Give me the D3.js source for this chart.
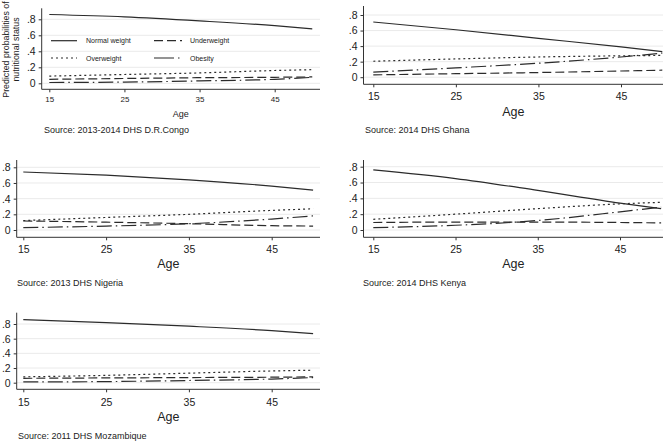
<!DOCTYPE html>
<html><head><meta charset="utf-8">
<script src="https://cdn.jsdelivr.net/npm/d3@7"></script>
<style>
html,body{margin:0;padding:0;background:#fff;}
svg{display:block;font-family:"Liberation Sans",Arial,sans-serif;}
</style></head>
<body>
<svg id="chart" width="669" height="441"></svg>
<script>
// ---- data ----
const ages = [15, 25, 35, 45, 50];
const xTicks = [15, 25, 35, 45];
const yTicks = [0, 0.2, 0.4, 0.6, 0.8];
const yTickLabels = ["0", ".2", ".4", ".6", ".8"];
const seriesNames = ["Normal weight", "Underweight", "Overweight", "Obesity"];
const sources = ["Source: 2013-2014 DHS D.R.Congo", "Source: 2014 DHS Ghana", "Source: 2013 DHS Nigeria", "Source: 2014 DHS Kenya", "Source: 2011 DHS Mozambique"];

const congoNormal = [0.86, 0.83, 0.78, 0.72, 0.68];
const congoUnder  = [0.05, 0.06, 0.07, 0.075, 0.08];
const congoOver   = [0.09, 0.11, 0.13, 0.16, 0.17];
const congoObese  = [0.01, 0.015, 0.03, 0.05, 0.075];

const ghanaNormal = [0.71, 0.61, 0.50, 0.39, 0.33];
const ghanaUnder  = [0.03, 0.045, 0.06, 0.08, 0.09];
const ghanaOver   = [0.205, 0.235, 0.26, 0.275, 0.28];
const ghanaObese  = [0.065, 0.12, 0.18, 0.26, 0.31];

const nigeriaNormal = [0.74, 0.70, 0.64, 0.56, 0.51];
const nigeriaUnder  = [0.115, 0.10, 0.08, 0.055, 0.05];
const nigeriaOver   = [0.12, 0.16, 0.20, 0.25, 0.27];
const nigeriaObese  = [0.03, 0.05, 0.08, 0.14, 0.18];

const kenyaNormal = [0.76, 0.65, 0.50, 0.34, 0.27];
const kenyaUnder  = [0.095, 0.10, 0.10, 0.095, 0.09];
const kenyaOver   = [0.135, 0.20, 0.27, 0.33, 0.35];
const kenyaObese  = [0.03, 0.06, 0.12, 0.23, 0.29];

const mozNormal = [0.86, 0.82, 0.77, 0.71, 0.67];
const mozUnder  = [0.06, 0.065, 0.07, 0.075, 0.08];
const mozOver   = [0.08, 0.10, 0.13, 0.16, 0.17];
const mozObese  = [0.01, 0.015, 0.03, 0.05, 0.07];

const countryData = [
  [congoNormal, congoUnder, congoOver, congoObese],
  [ghanaNormal, ghanaUnder, ghanaOver, ghanaObese],
  [nigeriaNormal, nigeriaUnder, nigeriaOver, nigeriaObese],
  [kenyaNormal, kenyaUnder, kenyaOver, kenyaObese],
  [mozNormal, mozUnder, mozOver, mozObese]
];

// ---- layout (pixel geometry of each panel) ----
const panels = [
  {left:41.7, right:320, top:8.3, bottom:89.3, x15:49.3, x45:274.7, y0:83.3, y8:19.3, small:true,
   tickDy:13, ageY:116.5, srcY:133, srcX:44},
  {left:363.5, right:663, top:6, bottom:84.3, x15:373.3, x45:621, y0:77.2, y8:15, small:false,
   tickDy:16, ageY:116, srcY:133, srcX:365},
  {left:16.7, right:320, top:160, bottom:237.3, x15:23.3, x45:271.7, y0:230, y8:167.3, small:false,
   tickDy:15.5, ageY:268, srcY:286, srcX:17},
  {left:363.5, right:663, top:160, bottom:237.3, x15:373.3, x45:620, y0:230, y8:166.7, small:false,
   tickDy:15.5, ageY:268, srcY:286, srcX:363},
  {left:16.7, right:320, top:312.7, bottom:389.3, x15:23.3, x45:271.7, y0:382.7, y8:324, small:false,
   tickDy:16.5, ageY:421, srcY:438.5, srcX:18}
];

const styles = [
  {dash:null},
  {dash:"9,4"},
  {dash:"2,3"},
  {dash:"15,4,1.5,4"}
];
const lineColor = "#2b2b2b";

const svg = d3.select("#chart");

panels.forEach((p, i) => {
  const x = d3.scaleLinear().domain([15, 45]).range([p.x15, p.x45]);
  const y = d3.scaleLinear().domain([0, 0.8]).range([p.y0, p.y8]);
  const g = svg.append("g");

  // gridlines
  g.selectAll(".grid").data(yTicks).enter().append("line")
    .attr("x1", p.left).attr("x2", p.right)
    .attr("y1", d => y(d)).attr("y2", d => y(d))
    .attr("stroke", "#eaeaea").attr("stroke-width", 1);

  // y axis
  const yAxis = d3.axisLeft(y).tickValues(yTicks).tickSize(3).tickPadding(3)
    .tickFormat((d, k) => yTickLabels[k]);
  const ya = g.append("g").attr("transform", `translate(${p.left},0)`).call(yAxis);
  ya.select(".domain").remove();
  ya.append("line").attr("x1", 0).attr("x2", 0).attr("y1", p.top).attr("y2", p.bottom)
    .attr("stroke", "#333").attr("stroke-width", 1);
  ya.selectAll(".tick line").attr("stroke", "#333");
  ya.selectAll("text").attr("font-size", "10.5px").attr("fill", "#222")
    .attr("font-family", "'Liberation Sans',Arial,sans-serif");

  // x axis
  const xAxis = d3.axisBottom(x).tickValues(xTicks).tickSize(3).tickFormat(d3.format("d"));
  const xa = g.append("g").attr("transform", `translate(0,${p.bottom})`).call(xAxis);
  xa.select(".domain").remove();
  xa.append("line").attr("x1", p.left).attr("x2", p.right).attr("y1", 0).attr("y2", 0)
    .attr("stroke", "#333").attr("stroke-width", 1);
  xa.selectAll(".tick line").attr("stroke", "#333");
  xa.selectAll("text").attr("font-size", p.small ? "8px" : "10.5px").attr("fill", "#222")
    .attr("font-family", "'Liberation Sans',Arial,sans-serif")
    .attr("dy", null).attr("y", p.tickDy);

  // lines
  const line = d3.line().x(d => x(d[0])).y(d => y(d[1])).curve(d3.curveMonotoneX);
  countryData[i].forEach((vals, s) => {
    g.append("path")
      .datum(ages.map((a, k) => [a, vals[k]]))
      .attr("d", line)
      .attr("fill", "none")
      .attr("stroke", lineColor)
      .attr("stroke-width", 1.2)
      .attr("stroke-dasharray", styles[s].dash);
  });

  // x title
  g.append("text").attr("x", (p.left + p.right) / 2).attr("y", p.ageY)
    .attr("text-anchor", "middle").attr("font-size", p.small ? "9px" : "12.5px").attr("fill", "#222")
    .text("Age");

  // source
  g.append("text").attr("x", p.srcX).attr("y", p.srcY)
    .attr("font-size", "9px").attr("fill", "#222").text(sources[i]);
});

// y axis title (first panel)
const yt = svg.append("text").attr("transform", "translate(8.5,49.5) rotate(-90)")
  .attr("text-anchor", "middle").attr("font-size", "8.8px").attr("fill", "#222");
yt.append("tspan").attr("x", 0).attr("y", 0).text("Predicted probabilities of");
yt.append("tspan").attr("x", 0).attr("y", 10).text("nutritional status");

// legend (inside first panel)
const legendPos = [
  {x1:51, x2:77, tx:86, y:40.7},
  {x1:154, x2:182, tx:190, y:40.7},
  {x1:51, x2:77, tx:86, y:58},
  {x1:154, x2:182, tx:190, y:58}
];
const lg = svg.append("g");
seriesNames.forEach((name, s) => {
  const lp = legendPos[s];
  lg.append("line").attr("x1", lp.x1).attr("x2", lp.x2).attr("y1", lp.y).attr("y2", lp.y)
    .attr("stroke", lineColor).attr("stroke-width", 1.2)
    .attr("stroke-dasharray", s === 3 ? "20,4,1.5,4" : styles[s].dash);
  lg.append("text").attr("x", lp.tx).attr("y", lp.y + 2.5).attr("font-size", "7px")
    .attr("fill", "#222").text(name);
});
</script>
</body></html>
